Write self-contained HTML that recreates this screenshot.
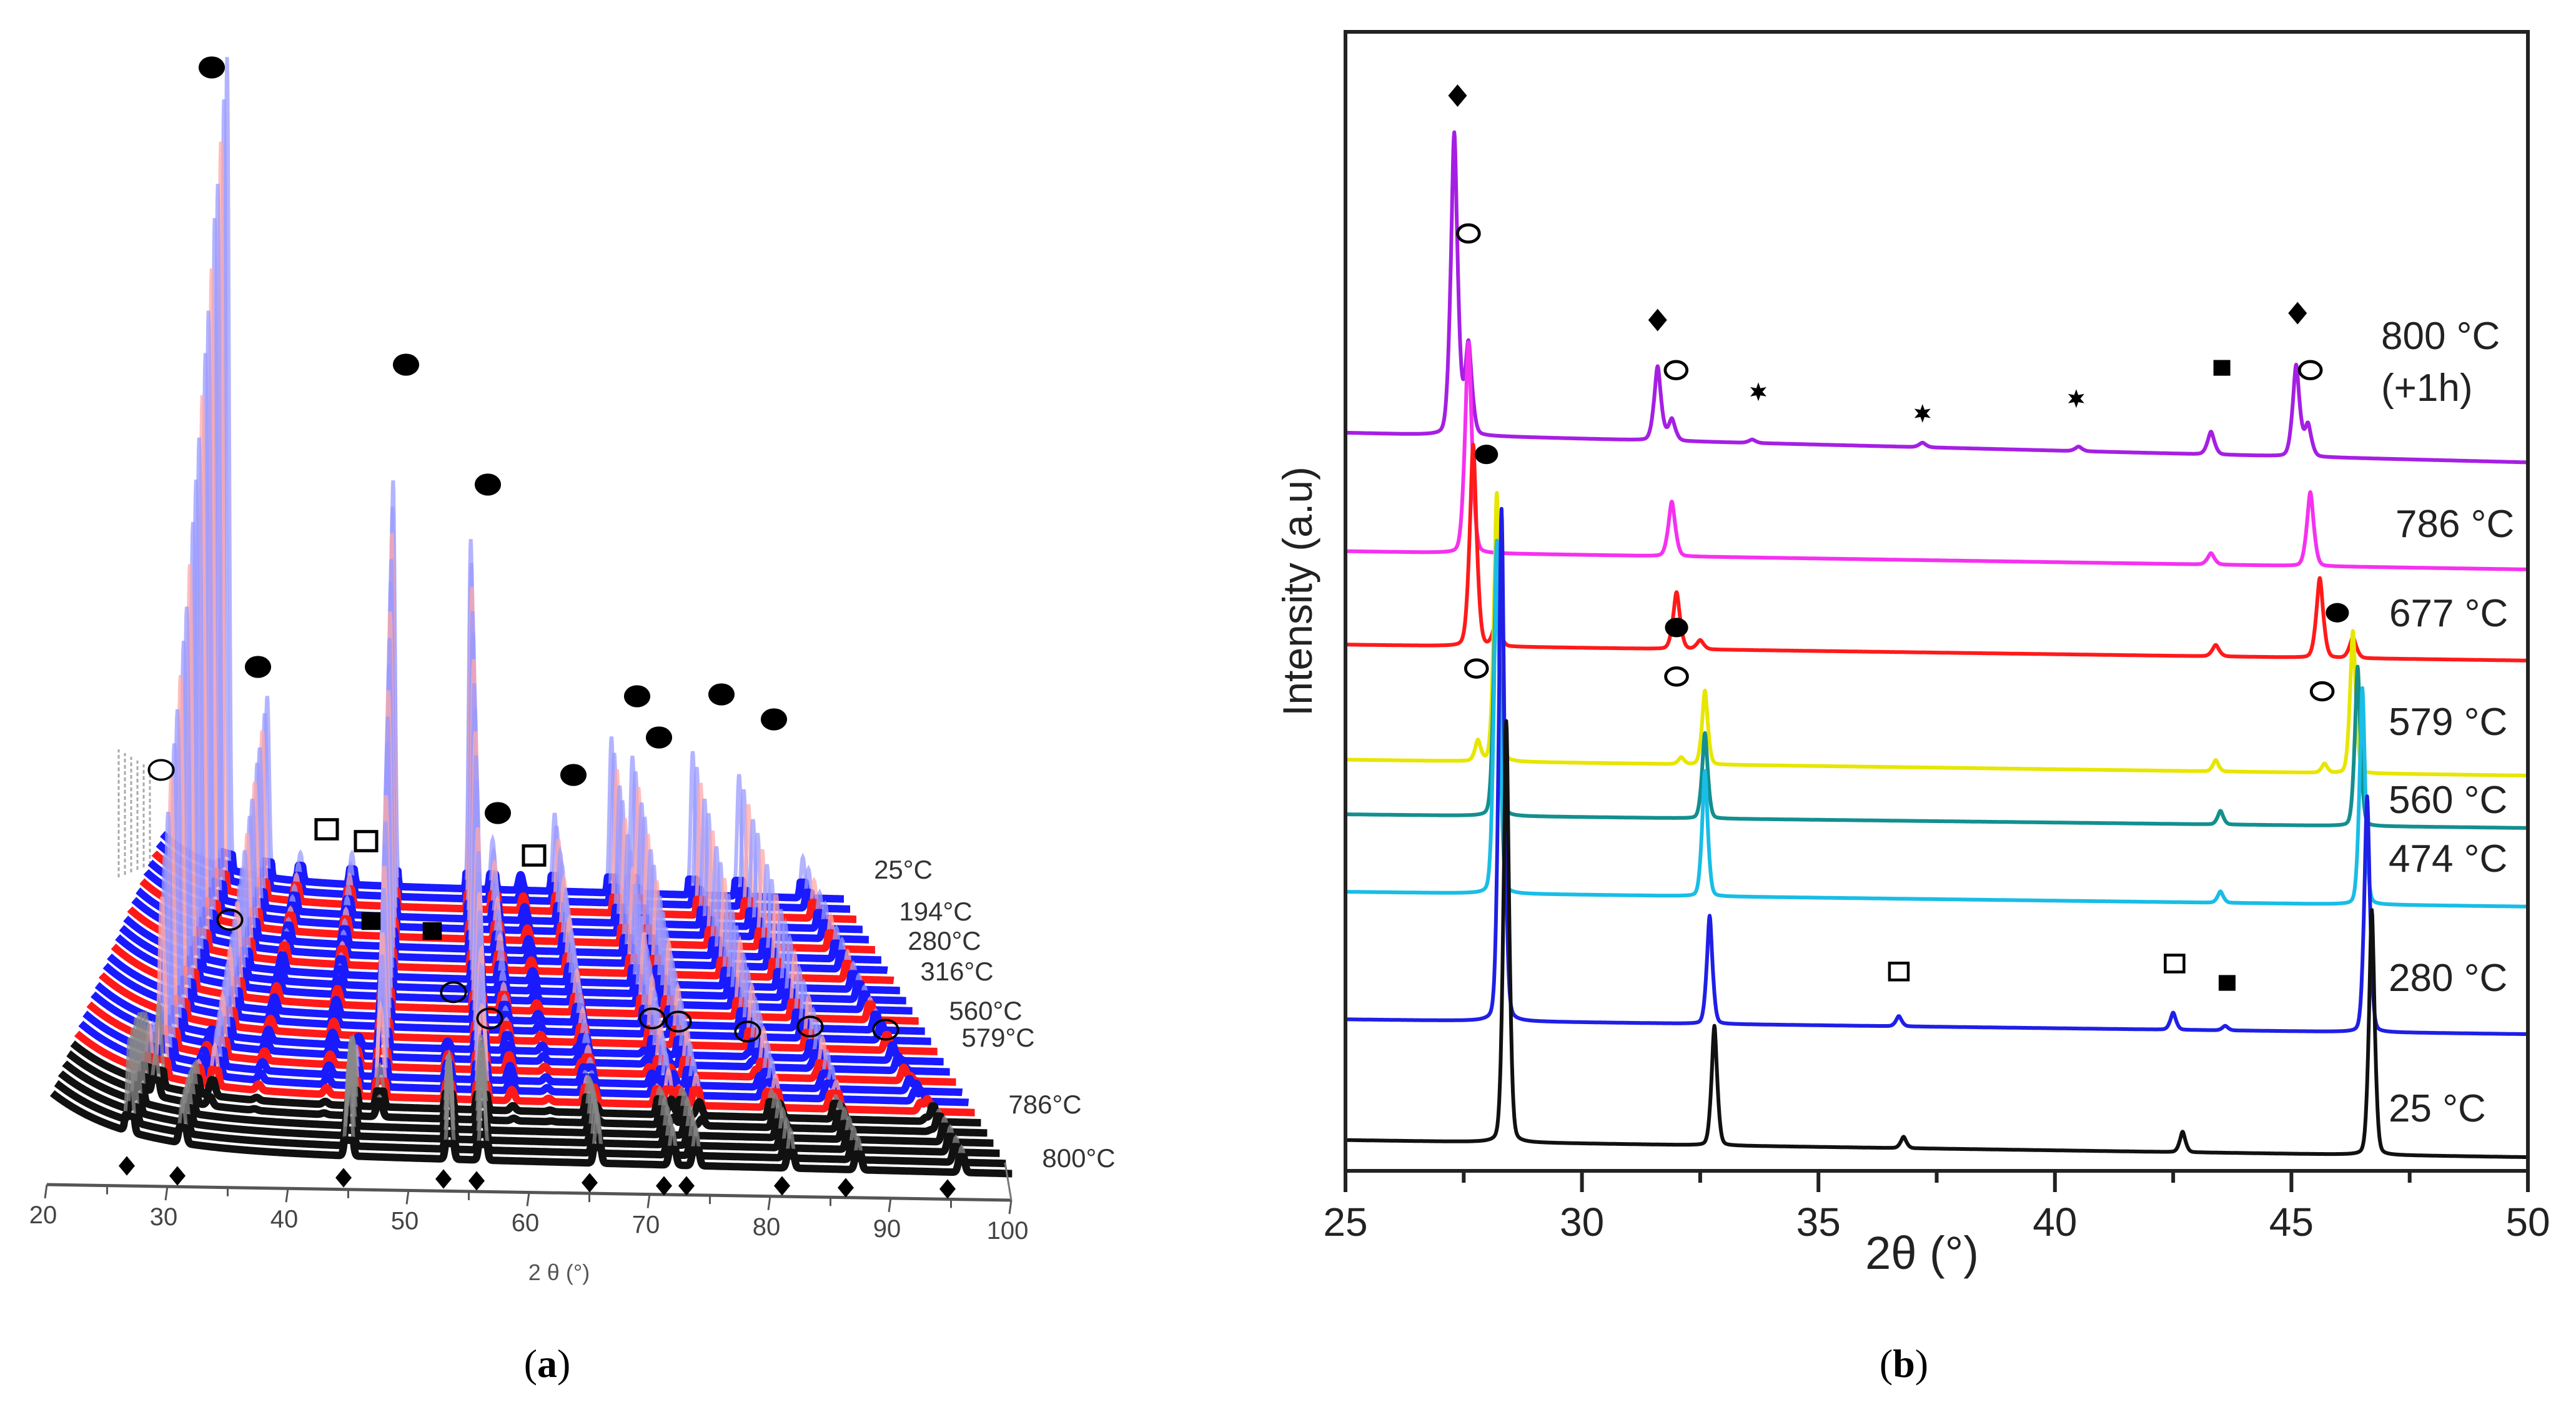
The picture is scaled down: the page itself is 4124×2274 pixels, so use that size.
<!DOCTYPE html>
<html><head><meta charset="utf-8"><title>XRD patterns</title>
<style>
html,body{margin:0;padding:0;background:#fff;}
svg{display:block;font-family:"Liberation Sans",Arial,sans-serif;}
</style></head>
<body>
<svg id="fig" xmlns="http://www.w3.org/2000/svg" width="4124" height="2274" viewBox="0 0 4124 2274">
<rect x="0" y="0" width="4124" height="2274" fill="#fff"/>
<g id="panelA"></g>
<g id="panelB"></g>
<text x="876" y="2205" font-family="Liberation Serif, serif" font-size="64" text-anchor="middle">(<tspan font-weight="bold">a</tspan>)</text>
<text x="3048" y="2205" font-family="Liberation Serif, serif" font-size="64" text-anchor="middle">(<tspan font-weight="bold">b</tspan>)</text>
</svg>
<script>
// ================= PANEL B DATA =================
const bLabels = ['25 °C','280 °C','474 °C','560 °C','579 °C','677 °C','786 °C','800 °C'];
const bColors = ['#111111','#1f1fe6','#19bde6','#138f8f','#e6e600','#ff1a1a','#f531f0','#a51fe3'];
const bBaseStart = [2.7,13.3,24.5,31.3,36.1,46.2,54.4,64.8];
const bBaseEnd = [1.2,12.0,23.2,30.1,34.7,44.8,52.8,62.2];
const bPeakPos = [
  [28.4,32.8,36.8,42.7,46.7],
  [28.3,32.7,36.7,42.5,43.6,46.6],
  [28.2,32.6,43.5,46.5],
  [28.2,32.6,43.5,46.4],
  [27.8,28.2,32.1,32.6,43.4,45.7,46.3],
  [27.7,28.2,32.0,32.5,43.4,45.6,46.3],
  [27.6,31.9,43.3,45.4],
  [27.3,27.6,31.6,31.9,33.6,37.2,40.5,43.3,45.1,45.35]
];
const bPeakH = [
  [37,10.5,1,1.8,21.5],
  [45,9.5,0.9,1.5,0.4,20.7],
  [31,11,1,19],
  [24,7.5,1.2,14],
  [1.8,23.6,0.6,6.5,1,0.8,12.5],
  [17.7,2.4,5,0.8,1,7,1.8],
  [18.5,4.8,1,6.5],
  [26.5,8,6.5,1.9,0.3,0.4,0.4,2,8,2.8]
];
const bXTicks = [25,30,35,40,45,50];
const bLabelY = [1774,1565,1374,1280,1155,981,838,537];
const bLabelX = [3824,3824,3824,3824,3824,3825,3835,3812];
const bMarkType = ['dia','oc','dia','oc','star','star','star','fsq','dia','oc','fc','fc','fc','oc','oc','oc','sq','sq','fsq'];
const bMarkX = [27.37,27.6,31.6,31.99,33.73,37.2,40.45,43.53,45.13,45.4,27.98,32.0,45.97,27.77,32.00,45.65,36.7,42.53,43.64];
const bMarkY = [94.4,82.3,74.7,70.3,68.4,66.5,67.8,70.5,75.3,70.3,62.9,47.7,49.0,44.1,43.4,42.1,17.5,18.2,16.5];

// ================= PANEL A DATA =================
const aColors = ['#1a1aff','#1a1aff','#ff1a1a','#1a1aff','#1a1aff','#ff1a1a','#1a1aff','#1a1aff','#ff1a1a','#1a1aff','#1a1aff','#1a1aff','#ff1a1a','#1a1aff','#1a1aff','#ff1a1a','#1a1aff','#1a1aff','#ff1a1a','#1a1aff','#1a1aff','#ff1a1a','#111111','#111111','#111111','#111111','#111111','#111111'];
const aPaleColors = ['#9a9aff','#9a9aff','#ffa8a8','#9a9aff','#9a9aff','#ffa8a8','#9a9aff','#9a9aff','#ffa8a8','#9a9aff','#9a9aff','#9a9aff','#ffa8a8','#9a9aff','#9a9aff','#ffa8a8','#9a9aff','#9a9aff','#ffa8a8','#9a9aff','#9a9aff','#ffa8a8','#888888','#888888','#888888','#888888','#888888','#888888'];
const aWeightA = [1,0.96,0.92,0.88,0.85,0.8,0.76,0.72,0.68,0.64,0.6,0.56,0.52,0.48,0.45,0.42,0.39,0.36,0.33,0.3,0.26,0.22,0.1,0.05,0,0,0,0];
const aWeightB = [0,0,0,0,0,0,0,0,0,0,0,0,0,0,0,0,0.1,0.15,0.2,0.3,0.4,0.5,0.7,0.85,0.95,1,1,1];
const aHump = [75,75,76,77,78,79,80,81,82,83,84,85,86,86,87,88,88,89,89,90,90,90,90,90,90,90,90,90];
const aPeaksA = [28.4,33.0,36.8,42.7,47.4,56.3,58.8,62.0,65.9,72.4,74.8,81.7,87.0,94.3];
const aHeightsA = [1300,290,45,50,650,560,80,25,125,250,220,230,195,65];
const aPeaksB = [27.3,31.6,45.1,53.3,56.0,65.3,71.4,73.3,81.0,86.5,94.9];
const aHeightsB = [150,70,150,120,130,80,60,60,60,50,40];
const aTicks = [20,30,40,50,60,70,80,90,100];
const aTempLabels = ['25°C','194°C','280°C','316°C','560°C','579°C','786°C','800°C'];
const aTempX = [1446,1498,1512,1532,1578,1598,1673,1727];
const aTempY = [1392,1459,1506,1555,1618,1661,1768,1854];
const aMarkType = ['fc','fc','oc','fc','fc','sq','sq','fc','sq','fc','fc','fc','fc','fc','fsq','fsq','oc','oc','oc','oc','oc','oc','oc','oc','dia','dia','dia','dia','dia','dia','dia','dia','dia','dia','dia'];
const aMarkX = [339,413,258,650,781,523,586,797,855,918,1020,1055,1155,1239,594,692,368,726,784,1044,1086,1197,1297,1418,203,284,550,710,763,944,1063,1099,1252,1354,1517];
const aMarkY = [108,1068,1233,584,776,1328,1347,1302,1370,1241,1115,1181,1112,1152,1475,1491,1473,1589,1631,1631,1636,1652,1644,1649,1867,1883,1886,1888,1891,1894,1899,1899,1899,1902,1904];

const NS='http://www.w3.org/2000/svg';
function el(tag, attrs, parent){const e=document.createElementNS(NS,tag);for(const k in attrs)e.setAttribute(k,attrs[k]);parent.appendChild(e);return e;}

function drawMarker(parent,type,x,y,s,hollow){
  let m;
  if(type==='fc'){m=el('ellipse',{cx:x,cy:y,rx:s*0.62,ry:s*0.52,fill:'#000'},parent);}
  else if(type==='oc'){m=el('ellipse',{cx:x,cy:y,rx:s*0.58,ry:s*0.46,fill:hollow?'none':'#fff',stroke:'#000','stroke-width':s*(hollow?0.11:0.16)},parent);}
  else if(type==='sq'){m=el('rect',{x:x-s*0.5,y:y-s*0.45,width:s,height:s*0.9,fill:'#fff',stroke:'#000','stroke-width':s*0.15},parent);}
  else if(type==='fsq'){m=el('rect',{x:x-s*0.45,y:y-s*0.42,width:s*0.9,height:s*0.84,fill:'#000'},parent);}
  else if(type==='dia'){m=el('polygon',{points:`${x},${y-s*0.6} ${x+s*0.5},${y} ${x},${y+s*0.6} ${x-s*0.5},${y}`,fill:'#000'},parent);}
  else {let p=[];for(let k=0;k<12;k++){const r=k%2?s*0.22:s*0.5;const a=-Math.PI/2+k*Math.PI/6;p.push((x+r*Math.cos(a)).toFixed(1)+','+(y+r*Math.sin(a)).toFixed(1));}
        m=el('polygon',{points:p.join(' '),fill:'#000'},parent);}
  return m;
}

// ================= DRAW PANEL B =================
(function(){
  const g=document.getElementById('panelB');
  const L=2154,R=4047,T=51,B=1875;
  const xb=t=>L+(t-25)*(R-L)/25;
  const yb=v=>B-v*(B-T)/100;
  function prof(t,c,w){const d=(t-c)/w;return 0.6*Math.exp(-0.5*d*d)+0.4/(1+d*d*2.2);}
  for(let s=bLabels.length-1;s>=0;s--){
    let pts=[];
    const w = s>=5?0.085:0.07;
    for(let t=25;t<=50.0001;t+=0.01){
      let v=bBaseStart[s]+(bBaseEnd[s]-bBaseStart[s])*(t-25)/25;
      for(let k=0;k<bPeakPos[s].length;k++){v+=bPeakH[s][k]*prof(t,bPeakPos[s][k],w);}
      pts.push(xb(t).toFixed(1)+','+yb(v).toFixed(1));
    }
    const p=el('polyline',{points:pts.join(' '),fill:'none',stroke:bColors[s],'stroke-width':6,'stroke-linejoin':'round'},g);
    
    
  }
  const frame=el('rect',{x:L,y:T,width:R-L,height:B-T,fill:'none',stroke:'#222','stroke-width':6},g);
  
  
  for(let t=25;t<=50;t+=2.5){
    const major=Math.abs(t/5-Math.round(t/5))<1e-6;
    const tk=el('line',{x1:xb(t),y1:B,x2:xb(t),y2:B+(major?34:19),stroke:'#222','stroke-width':6},g);
    
    
  }
  bXTicks.forEach(v=>{
    const tx=el('text',{x:xb(v),y:1979,'font-size':64,'text-anchor':'middle',fill:'#222'},g);
    tx.textContent=v;
    
    
  });
  const xt=el('text',{x:3077,y:2032,'font-size':74,'text-anchor':'middle',fill:'#222'},g);
  xt.textContent='2θ (°)';
  
  
  const yt=el('text',{x:0,y:0,'font-size':66,'text-anchor':'middle',fill:'#222',transform:'translate(2100,947) rotate(-90)'},g);
  yt.textContent='Intensity (a.u)';
  
  
  bLabels.forEach((lab,i)=>{
    const tx=el('text',{x:bLabelX[i],y:bLabelY[i]+22,'font-size':62,fill:'#222'},g);
    tx.textContent=lab;
    
    
  });
  const ex=el('text',{x:3812,y:642,'font-size':62,fill:'#222'},g);
  ex.textContent='(+1h)';
  
  
  for(let k=0;k<bMarkType.length;k++){
    const m=drawMarker(g,bMarkType[k],xb(bMarkX[k]),yb(bMarkY[k]),30,false);
    
    
  }
})();

// ================= DRAW PANEL A =================
(function(){
  const g=document.getElementById('panelA');
  const N=aColors.length;
  const back={x20:246,x100:1365,y20:1410,y100:1440};
  const front={x20:64,x100:1640,y20:1840,y100:1880};
  const lerp=(a,b,t)=>a+(b-a)*t;
  function geo(i){const t=i/(N-1);return {x20:lerp(back.x20,front.x20,t),x100:lerp(back.x100,front.x100,t),y20:lerp(back.y20,front.y20,t),y100:lerp(back.y100,front.y100,t)};}
  const gp=(t,c,w)=>{const d=(t-c)/w;return Math.exp(-0.5*d*d);};
  for(let k=0;k<6;k++){
    const ln=el('line',{x1:190+k*10,y1:1405-k*4,x2:190+k*10,y2:1200+k*6,stroke:'#aaa','stroke-width':3,'stroke-dasharray':'6,4'},g);
    
    
  }
  for(let i=0;i<N;i++){
    const G=geo(i);
    let pale=[],solid=[];
    for(let t=21;t<=99.0001;t+=0.05){
      const x=G.x20+(t-20)/80*(G.x100-G.x20);
      const y0=G.y20+(t-20)/80*(G.y100-G.y20);
      let h=aHump[i]*Math.exp(-(t-21)/6);
      let pk=0;
      for(let k=0;k<aPeaksA.length;k++) pk+=aWeightA[i]*aHeightsA[k]*gp(t,aPeaksA[k],0.22);
      for(let k=0;k<aPeaksB.length;k++) pk+=aWeightB[i]*aHeightsB[k]*gp(t,aPeaksB[k],0.2);
      pale.push(x.toFixed(1)+','+(y0-h-pk).toFixed(1));
      solid.push(x.toFixed(1)+','+(y0-h-Math.min(pk,25)).toFixed(1));
    }
    const pp=el('polyline',{points:pale.join(' '),fill:'none',stroke:aPaleColors[i],'stroke-width':6,'stroke-opacity':0.75},g);
    
    
    const sp=el('polyline',{points:solid.join(' '),fill:'none',stroke:aColors[i],'stroke-width':12,'stroke-linejoin':'round'},g);
    
    
  }
  const ax0={x:75,y:1897},ax1={x:1619,y:1922};
  const axX=t=>ax0.x+(t-20)/80*(ax1.x-ax0.x);
  const axY=t=>ax0.y+(t-20)/80*(ax1.y-ax0.y);
  const axl=el('line',{x1:ax0.x,y1:ax0.y,x2:ax1.x,y2:ax1.y,stroke:'#555','stroke-width':5},g);
  
  
  const side=el('line',{x1:ax1.x,y1:ax1.y,x2:ax1.x-10,y2:ax1.y-60,stroke:'#777','stroke-width':3},g);
  
  
  for(let t=20;t<=100;t+=5){
    const major=t%10===0;
    const tk=el('line',{x1:axX(t),y1:axY(t),x2:axX(t)+(major?-3:0),y2:axY(t)+(major?22:14),stroke:'#555','stroke-width':3},g);
    
    
  }
  aTicks.forEach(v=>{
    const tx=el('text',{x:axX(v)-6,y:axY(v)+62,'font-size':40,'text-anchor':'middle',fill:'#444'},g);
    tx.textContent=v;
    
    
  });
  const xt=el('text',{x:895,y:2050,'font-size':36,'text-anchor':'middle',fill:'#555'},g);
  xt.textContent='2 θ (°)';
  
  
  aTempLabels.forEach((lab,i)=>{
    const tx=el('text',{x:aTempX[i],y:aTempY[i]+15,'font-size':42,'text-anchor':'middle',fill:'#333'},g);
    tx.textContent=lab;
    
    
  });
  for(let k=0;k<aMarkType.length;k++){
    const m=drawMarker(g,aMarkType[k],aMarkX[k],aMarkY[k],aMarkType[k]==='dia'?26:34,true);
    
    
  }
})();
</script>
</body></html>
